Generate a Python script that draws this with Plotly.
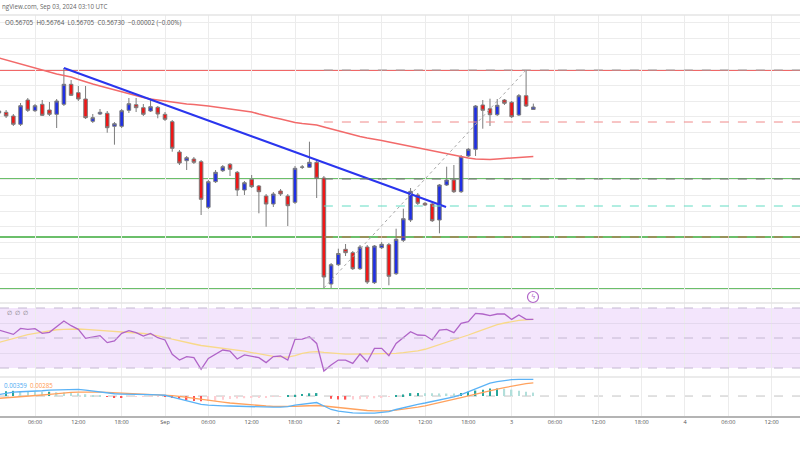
import plotly.graph_objects as go
import pandas as pd

# 1h candles, Aug 31 01:00 -> Sep 3 03:00 UTC
times = pd.date_range("2024-08-31 01:00", periods=75, freq="h")

opens = [0.5667, 0.56677, 0.5664, 0.56557, 0.5680, 0.56693, 0.56757, 0.5670, 0.56657, 0.56757,
         0.56957, 0.56873, 0.5681, 0.56587, 0.5666, 0.56667, 0.56537, 0.56537, 0.56697, 0.56753,
         0.56723, 0.5669, 0.56727, 0.56657, 0.56583, 0.5628, 0.56193, 0.5621, 0.56183, 0.55727,
         0.55983, 0.56093, 0.56157, 0.56077, 0.5590, 0.56007, 0.5594, 0.5584, 0.5576, 0.5589,
         0.5584, 0.55777, 0.56127, 0.56127, 0.56177, 0.5602, 0.5496, 0.55153, 0.55307, 0.55273,
         0.55113, 0.5533, 0.54973, 0.55323, 0.55353, 0.55063, 0.55397, 0.5560, 0.5585, 0.55767,
         0.5576, 0.5560, 0.5595, 0.5600, 0.55883, 0.5624, 0.56307, 0.5675, 0.56713, 0.56653,
         0.5680, 0.56777, 0.5665, 0.56843, 0.56705]
closes = [0.5669, 0.5664, 0.56557, 0.56743, 0.56697, 0.56743, 0.56647, 0.56657, 0.5679, 0.56957,
          0.56847, 0.5681, 0.56623, 0.56623, 0.56677, 0.56523, 0.56563, 0.56693, 0.56763, 0.56723,
          0.56657, 0.56733, 0.5666, 0.56607, 0.56317, 0.5617, 0.56223, 0.56177, 0.55807, 0.55983,
          0.56077, 0.56133, 0.56107, 0.5590, 0.55973, 0.55933, 0.55883, 0.5576, 0.5586, 0.5586,
          0.55743, 0.56117, 0.5613, 0.56177, 0.56017, 0.5503, 0.55153, 0.55265, 0.55273, 0.55113,
          0.5533, 0.5498, 0.5534, 0.55357, 0.55037, 0.55407, 0.55613, 0.55887, 0.55767, 0.5575,
          0.55593, 0.5595, 0.5600, 0.55883, 0.56233, 0.56307, 0.5674, 0.56697, 0.56653, 0.56747,
          0.56767, 0.56633, 0.56843, 0.5674, 0.5673]
highs = [0.5671, 0.5670, 0.5666, 0.5677, 0.5682, 0.5676, 0.5680, 0.5678, 0.5681, 0.5712,
         0.5700, 0.5694, 0.5694, 0.5666, 0.5671, 0.5669, 0.5658, 0.5671, 0.5682, 0.5682,
         0.5676, 0.56813, 0.5674, 0.5668, 0.5660, 0.5630, 0.5624, 0.5623, 0.5620, 0.5600,
         0.5610, 0.5615, 0.5617, 0.5609, 0.5599, 0.5605, 0.5595, 0.5586, 0.5588, 0.5591,
         0.5586, 0.5614, 0.5615, 0.56383, 0.5620, 0.5604, 0.5517, 0.55313, 0.5536, 0.5529,
         0.5535, 0.5535, 0.5535, 0.5538, 0.5537, 0.55513, 0.55713, 0.5592, 0.5587, 0.5578,
         0.5577, 0.5596, 0.56133, 0.5615, 0.5625, 0.5632, 0.5675, 0.5680, 0.56813, 0.5681,
         0.5681, 0.5679, 0.5686, 0.5710, 0.56764]
lows = [0.5665, 0.5662, 0.5654, 0.5654, 0.5668, 0.5668, 0.5664, 0.5664, 0.5652, 0.5674,
        0.5684, 0.5679, 0.5661, 0.5657, 0.5665, 0.56473, 0.56353, 0.5652, 0.5667, 0.5668,
        0.5664, 0.5668, 0.56617, 0.5659, 0.56283, 0.5615, 0.5610, 0.5616, 0.5565, 0.5571,
        0.5597, 0.5608, 0.5604, 0.5584, 0.5585, 0.5592, 0.55667, 0.55533, 0.5573, 0.5584,
        0.5554, 0.5576, 0.5611, 0.5612, 0.5582, 0.5492, 0.5492, 0.5514, 0.5524, 0.5510,
        0.5510, 0.5496, 0.5496, 0.5531, 0.54947, 0.5505, 0.5538, 0.5558, 0.5575, 0.5574,
        0.5558, 0.55467, 0.5594, 0.5587, 0.5587, 0.5623, 0.5624, 0.56513, 0.5654, 0.5664,
        0.5675, 0.5662, 0.5664, 0.5673, 0.56705]

# moving average on price
ma_vals = [0.5722, 0.5720, 0.5718, 0.5716, 0.57135, 0.57115, 0.57095, 0.5708, 0.5706, 0.57045,
           0.5703, 0.57005, 0.5698, 0.5696, 0.5694, 0.5692, 0.5690, 0.5688, 0.5686, 0.5684,
           0.56825, 0.5681, 0.5680, 0.56785, 0.56775, 0.5677, 0.5676, 0.56755, 0.5675, 0.5674,
           0.5673, 0.5672, 0.5671, 0.5670, 0.5669, 0.5668, 0.5666, 0.5664, 0.56625, 0.5661,
           0.5659, 0.56575, 0.56565, 0.56555, 0.5655, 0.5653, 0.5651, 0.5649, 0.5647, 0.5645,
           0.56435, 0.5642, 0.5641, 0.56395, 0.5638, 0.56365, 0.5635, 0.56335, 0.5632, 0.56305,
           0.5629, 0.56275, 0.5626, 0.56245, 0.5623, 0.5622, 0.5621, 0.56205, 0.56205, 0.5621,
           0.56215, 0.5622, 0.56225, 0.5623, 0.56235]

rsi = [55.3, 53.8, 52.4, 56.4, 55.8, 56.2, 53.1, 53.8, 57.6, 61.3,
       58.2, 55.8, 49.8, 50.9, 51.6, 46.9, 48.0, 53.1, 54.9, 53.6,
       51.3, 53.1, 50.2, 48.7, 39.1, 35.3, 37.6, 36.9, 29.1, 36.4,
       39.3, 42.0, 41.3, 36.0, 38.7, 38.0, 36.9, 33.6, 37.6, 38.0,
       35.3, 49.1, 49.3, 50.9, 46.4, 28.0, 32.0, 35.3, 35.3, 33.1,
       39.3, 34.2, 43.1, 43.1, 38.2, 46.4, 50.4, 54.2, 52.0, 51.8,
       48.7, 55.3, 55.8, 53.6, 59.8, 60.9, 66.4, 66.0, 64.9, 66.0,
       66.0, 62.4, 65.3, 62.4, 62.4]
rsi_ma = [47.1, 48.5, 49.8, 51.0, 52.2, 53.1, 54.0, 54.8, 55.5, 55.8,
          56.0, 56.0, 55.8, 55.5, 55.0, 54.9, 54.6, 54.3, 54.0, 53.6,
          53.0, 52.4, 51.6, 50.4, 49.2, 48.0, 47.0, 46.0, 45.0, 44.4,
          43.8, 43.2, 42.6, 42.0, 41.2, 40.3, 39.4, 38.5, 37.8, 37.4,
          37.2, 38.2, 39.8, 40.6, 40.9, 40.4, 39.9, 39.5, 39.3, 39.3,
          39.3, 39.3, 39.3, 39.4, 39.6, 39.8, 40.2, 40.6, 41.4, 42.5,
          44.0, 45.5, 47.0, 48.6, 50.3, 52.0, 53.8, 55.6, 57.4, 58.9,
          60.0, 61.0, 61.7, 62.1, 62.4]

macd = [0.00032, 0.00065, 0.00086, 0.00092, 0.00097, 0.00108, 0.00114, 0.00129, 0.00135, 0.00144,
        0.00144, 0.00144, 0.00129, 0.00108, 0.00092, 0.00065, 0.00049, 0.00043, 0.00043, 0.00043,
        0.00037, 0.00030, 0.00026, 0.00017, -0.00022, -0.00065, -0.00108, -0.00150, -0.00178, -0.00194,
        -0.00209, -0.00211, -0.00215, -0.00221, -0.00228, -0.00232, -0.00237, -0.00243, -0.00241, -0.00237,
        -0.00226, -0.00194, -0.00172, -0.00150, -0.00140, -0.00215, -0.00290, -0.00323, -0.00344, -0.00361,
        -0.00370, -0.00372, -0.00366, -0.00350, -0.00338, -0.00290, -0.00254, -0.00204, -0.00178, -0.00150,
        -0.00118, -0.00090, -0.00054, -0.00017, 0.00032, 0.00097, 0.00161, 0.00215, 0.00280, 0.00312,
        0.00338, 0.00353, 0.00359, 0.00361, 0.00359]
signal = [-0.00049, -0.00039, -0.00026, -0.00013, -0.00004, 0.00009, 0.00022, 0.00037, 0.00054, 0.00069,
          0.00080, 0.00086, 0.00090, 0.00090, 0.00086, 0.00080, 0.00073, 0.00067, 0.00060, 0.00054,
          0.00047, 0.00039, 0.00030, 0.00022, 0.00009, -0.00006, -0.00024, -0.00043, -0.00065, -0.00086,
          -0.00108, -0.00129, -0.00150, -0.00166, -0.00181, -0.00194, -0.00204, -0.00215, -0.00221, -0.00226,
          -0.00228, -0.00224, -0.00215, -0.00209, -0.00204, -0.00215, -0.00232, -0.00249, -0.00267, -0.00284,
          -0.00301, -0.00312, -0.00318, -0.00323, -0.00318, -0.00305, -0.00288, -0.00267, -0.00241, -0.00211,
          -0.00178, -0.00146, -0.00108, -0.00069, -0.00032, 0.00004, 0.00043, 0.00080, 0.00118, 0.00150,
          0.00181, 0.00215, 0.00245, 0.00269, 0.00285]

# drawings
trend_x = ["2024-08-31 10:00", "2024-09-02 14:55"]
trend_y = [0.5712, 0.5573]
resist_level = 0.5710
support_levels = [0.5601, 0.5543, 0.5491]
fib_start = "2024-09-01 22:00"
fib_levels = [0.5710, 0.5658, 0.5601, 0.5574, 0.5543]
fib_colors = ["#a0a0a0", "#f08a8a", "#6f6f6f", "#63dcc3", "#c2674a"]
diag_x = ["2024-09-01 22:00", "2024-09-03 02:00"]
diag_y = [0.5492, 0.5710]

tick_vals = pd.date_range("2024-08-31 06:00", "2024-09-04 12:00", freq="6h")
tick_text = ["06:00", "12:00", "18:00", "Sep", "06:00", "12:00", "18:00", "2",
             "06:00", "12:00", "18:00", "3", "06:00", "12:00", "18:00", "4", "06:00", "12:00"]
x_range = ["2024-08-31 01:09:10", "2024-09-04 15:55:30"]
x_end = "2024-09-04 16:00"

W, H = 800, 450
def py(p):
    return (H - p) / H

GRID = "#ececec"

fig = go.Figure()

fig.add_trace(go.Candlestick(
    x=times, open=opens, high=highs, low=lows, close=closes,
    increasing=dict(fillcolor="#1f2fe6", line=dict(color="#7c7c7c", width=1)),
    decreasing=dict(fillcolor="#f01616", line=dict(color="#7c7c7c", width=1)),
    xaxis="x", yaxis="y", hoverinfo="skip"))

fig.add_trace(go.Scatter(x=times, y=ma_vals, mode="lines",
                         line=dict(color="#f26a6a", width=1.5), xaxis="x", yaxis="y"))

fig.add_trace(go.Scatter(x=trend_x, y=trend_y, mode="lines",
                         line=dict(color="#2a35ee", width=2), xaxis="x", yaxis="y"))

fig.add_trace(go.Scatter(x=diag_x, y=diag_y, mode="lines",
                         line=dict(color="#a8a8a8", width=1, dash="dot"), xaxis="x", yaxis="y"))

for lvl, col in zip(fib_levels, fib_colors):
    fig.add_trace(go.Scatter(x=[fib_start, x_end], y=[lvl, lvl], mode="lines",
                             line=dict(color=col, width=1, dash="dash"), xaxis="x", yaxis="y"))

# RSI
fig.add_trace(go.Scatter(x=times, y=rsi_ma, mode="lines",
                         line=dict(color="#f8d98a", width=1.3), xaxis="x2", yaxis="y2"))
fig.add_trace(go.Scatter(x=times, y=rsi, mode="lines",
                         line=dict(color="#b064c8", width=1.3), xaxis="x2", yaxis="y2"))

# MACD
hist = [m - s for m, s in zip(macd, signal)]
hist_colors = []
for i, d in enumerate(hist):
    prev = hist[i - 1] if i > 0 else d
    if d >= 0:
        hist_colors.append("#26a69a" if d >= prev else "#b2dfdb")
    else:
        hist_colors.append("#ff5252" if d < prev else "#ffcdd2")
fig.add_trace(go.Bar(x=times, y=hist, marker=dict(color=hist_colors, line=dict(width=0)),
                     width=700000, xaxis="x3", yaxis="y3"))
fig.add_trace(go.Scatter(x=times, y=signal, mode="lines",
                         line=dict(color="#ffa25e", width=1.3), xaxis="x3", yaxis="y3"))
fig.add_trace(go.Scatter(x=times, y=macd, mode="lines",
                         line=dict(color="#5ab2f6", width=1.3), xaxis="x3", yaxis="y3"))

shapes = []
shapes.append(dict(type="line", xref="paper", yref="y", x0=0, x1=1, y0=resist_level, y1=resist_level,
                   line=dict(color="#ec3434", width=1.5), layer="below"))
for lvl in support_levels:
    shapes.append(dict(type="line", xref="paper", yref="y", x0=0, x1=1, y0=lvl, y1=lvl,
                       line=dict(color="#6bbf6a", width=1.8), layer="below"))
# RSI band
shapes.append(dict(type="rect", xref="paper", yref="y2", x0=0, x1=1, y0=30, y1=70,
                   fillcolor="#f3e5fc", line=dict(width=0), layer="below"))
for lvl in [70, 50, 30]:
    shapes.append(dict(type="line", xref="paper", yref="y2", x0=0, x1=1, y0=lvl, y1=lvl,
                       line=dict(color="#c4b8d2", width=1, dash="dash")))
shapes.append(dict(type="line", xref="paper", yref="y3", x0=0, x1=1, y0=0, y1=0,
                   line=dict(color="#c4c4c4", width=1, dash="dash"), layer="below"))
# panel separators
for p in [15, 303, 377]:
    shapes.append(dict(type="line", xref="paper", yref="paper", x0=0, x1=1, y0=py(p), y1=py(p),
                       line=dict(color="#e4e4e4", width=1.5)))
# lightning marker
shapes.append(dict(type="circle", xref="paper", yref="paper",
                   x0=527.5 / W, x1=538.5 / W, y0=py(302.5), y1=py(291.5),
                   line=dict(color="#b064c8", width=1.2), fillcolor="white"))

FONT = "Open Sans"
annotations = [
    dict(text="ngView.com, Sep 03, 2024 03:10 UTC", x=0, y=py(6.5), xref="paper", yref="paper",
         xanchor="left", yanchor="middle", showarrow=False, font=dict(size=6.2, color="#666", family=FONT)),
    dict(text="O0.56705  H0.56764  L0.56705  C0.56730  \u22120.00002 (\u22120.00%)", x=2.5 / W, y=py(22.7),
         xref="paper", yref="paper", xanchor="left", yanchor="middle", showarrow=False,
         font=dict(size=6.3, color="#555", family=FONT)),
    dict(text="\u2205  \u2205  \u2205", x=4.5 / W, y=py(313), xref="paper", yref="paper",
         xanchor="left", yanchor="middle", showarrow=False, font=dict(size=6, color="#777", family=FONT)),
    dict(text="0.00359", x=1.5 / W, y=py(385), xref="paper", yref="paper", xanchor="left", yanchor="middle",
         showarrow=False, font=dict(size=6.2, color="#4aa9f2", family=FONT)),
    dict(text="0.00285", x=28 / W, y=py(385), xref="paper", yref="paper", xanchor="left", yanchor="middle",
         showarrow=False, font=dict(size=6.2, color="#ff9a50", family=FONT)),
    dict(text="\u03df", x=533 / W, y=py(297), xref="paper", yref="paper", xanchor="center", yanchor="middle",
         showarrow=False, font=dict(size=7, color="#b064c8", family="DejaVu Sans")),
]

xcommon = dict(range=x_range, tickvals=tick_vals, showgrid=True, gridcolor=GRID, gridwidth=1,
               zeroline=False, ticks="", fixedrange=True, type="date")

fig.update_layout(
    width=W, height=H, margin=dict(l=0, r=0, t=0, b=0),
    paper_bgcolor="white", plot_bgcolor="white", showlegend=False,
    barmode="overlay", hovermode=False,
    xaxis=dict(domain=[0, 1], anchor="y", showticklabels=False, rangeslider=dict(visible=False), **xcommon),
    xaxis2=dict(domain=[0, 1], anchor="y2", matches="x", showticklabels=False, **xcommon),
    xaxis3=dict(domain=[0, 1], anchor="y3", matches="x", showticklabels=True, ticktext=tick_text,
                tickfont=dict(size=5.6, color="#555", family=FONT), showline=True, linecolor="#b4b4b4",
                linewidth=1.5, **xcommon),
    yaxis=dict(domain=[py(302), py(15)], range=[0.5478, 0.5765], tick0=0.57103, dtick=0.00157,
               showticklabels=False, showgrid=True, gridcolor=GRID, zeroline=False, fixedrange=True),
    yaxis2=dict(domain=[py(377), py(302)], range=[30 - 9 / 1.5, 70 + 6 / 1.5], tickvals=[40, 60],
                showticklabels=False, showgrid=True, gridcolor="#e4d8ee", zeroline=False, fixedrange=True),
    yaxis3=dict(domain=[py(416), py(377)], range=[-0.0043, 0.0041], showticklabels=False,
                showgrid=False, zeroline=False, fixedrange=True),
    shapes=shapes, annotations=annotations,
)

# page body margin would shift the chart by 8px
fig.write_html("out.html", config={"displayModeBar": False},
               post_script="document.body.style.margin='0';")
